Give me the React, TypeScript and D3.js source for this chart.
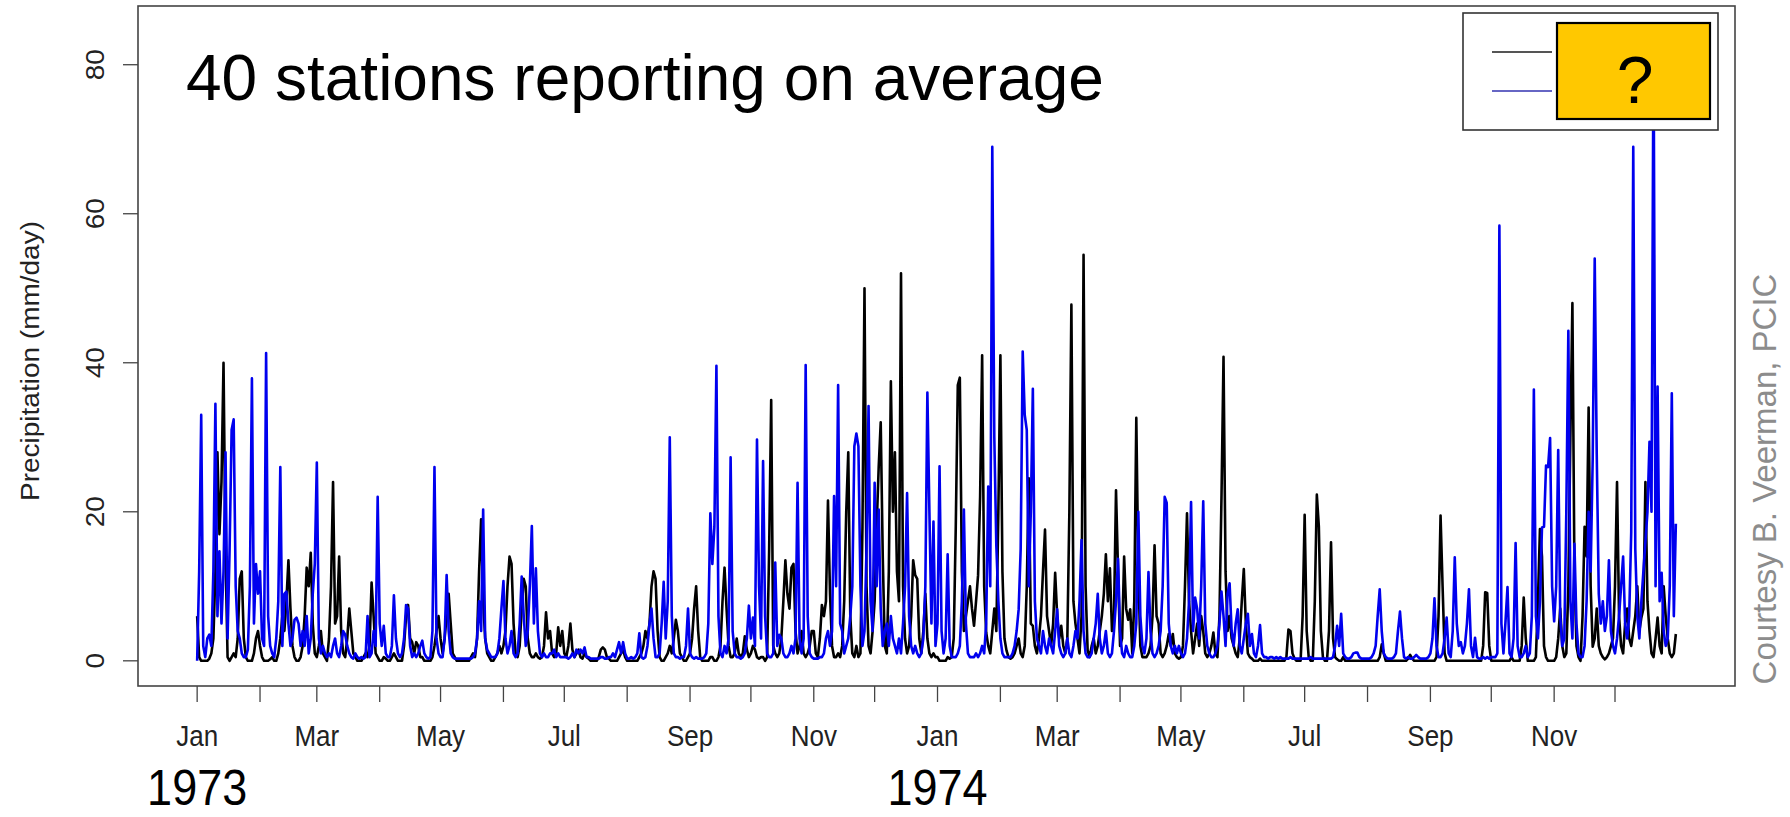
import React from "react";
import * as d3 from "d3";

// daily precipitation (mm/day), black series
const black1973 = [
  6, 0.5, 0, 0, 0, 0, 0.3, 1, 3, 12,
  28, 17, 24, 40, 14, 0.5, 0, 0.5, 1, 0.5,
  3, 11, 12, 3, 0.5, 0, 0, 0, 1, 3,
  4, 2, 0.5, 0, 0, 0, 0.2, 0.5, 0, 0,
  1, 3, 6, 4, 8, 13.5, 7, 2, 0.5, 0,
  0, 0.5, 2, 6, 12.5, 10, 14.5, 5, 1, 0.5,
  2, 4, 1, 0.5, 0, 3, 10, 24, 5, 6,
  14, 4, 1, 0.5, 3, 7, 4, 1, 0.5, 0,
  0, 0, 0.5, 1, 0.5, 2, 10.5, 6, 1, 0.5,
  0, 0, 0.5, 0.3, 0, 0, 0.5, 1, 0.5, 0,
  0, 0, 2, 6, 7.5, 3, 2.5, 1, 2.5, 2,
  0.5, 0.5, 0, 0, 0, 0, 0.5, 2, 4, 6,
  3, 1, 3, 6, 9, 5, 1, 0.5, 0, 0,
  0, 0, 0, 0, 0, 0.5, 1, 0.5, 3, 12,
  19, 8, 3, 1, 0.5, 0, 0, 0.5, 1, 2,
  1, 2, 4, 10, 14, 13, 5, 1, 0.5, 2,
  7, 11, 10, 3, 1, 0.5, 0.5, 1, 0.5, 0.3,
  0.5, 2, 6.5, 3, 4, 1, 0.5, 1, 4.5, 2,
  4, 1, 0.5, 2, 5, 1.5, 0.5, 1, 1.5, 0.5,
  0.3, 1, 0.5, 0.3, 0, 0, 0, 0, 0.5, 1.5,
  1.8, 1.5, 0.5, 0.3, 0, 0, 0, 0, 0.5, 1,
  1.5, 0.5, 0, 0, 0, 0, 0, 0, 0.5, 1,
  2, 4, 3, 5, 10, 12, 11, 4, 0.5, 0,
  0, 0.5, 1, 2, 1, 3, 5.5, 4, 1, 0.5,
  0, 0, 0.5, 1, 3, 7, 10, 4, 0.5, 0,
  0, 0, 0, 0.5, 0.5, 0, 0, 0.5, 2, 8,
  12.5, 7, 2, 0.5, 0.5, 1, 3, 1, 0.5, 1,
  3.3, 1.5, 0.5, 1, 2, 1.5, 0.5, 0.3, 0.5, 0.5,
  0, 0.5, 15, 35, 2, 1, 0.5, 1, 3, 8,
  13.5, 9, 7, 12.5, 13, 4, 1, 2, 4, 1,
  0.5, 1, 2, 4, 4, 1, 0.5, 3, 7.5, 6,
  8, 21.5, 9, 2, 0.5, 0.5, 1, 0.5, 2, 8,
  20, 28, 6, 1, 0.5, 2, 0.5, 1, 18, 50,
  10, 2, 1, 4, 8, 18, 26, 32, 14, 2,
  1, 12, 37.5, 20, 28, 12, 8, 52, 10, 3,
  1, 2, 6, 13.5, 11.5, 11, 3, 1, 4, 9,
  3, 1, 0.5, 1, 0.5,
];

const black1974 = [
  0.5, 0, 0, 0, 0, 0.5, 0.3, 0.5, 3, 18,
  37, 38, 12, 4, 6, 8, 10, 7, 4.7, 8,
  11.5, 22, 41, 10, 3.8, 2, 1, 4, 7, 4,
  20, 41, 12, 3, 1.4, 0.5, 0.3, 0.5, 1, 2,
  3, 1, 0.5, 2, 10, 24.5, 5, 4.7, 2, 1,
  3, 6, 12, 17.6, 6, 4, 2, 5, 11.8, 6,
  3, 4.7, 2, 1, 3, 20, 47.8, 8, 5, 3,
  1, 6, 54.5, 10, 1.4, 0.5, 2, 3, 1, 2,
  4, 6, 9, 14.3, 8, 12.4, 4, 6, 22.9, 12,
  2, 3, 14, 7, 5.5, 6.9, 1, 8, 32.6, 12,
  2, 0.5, 0.5, 0.5, 1, 2, 6, 15.5, 6, 5,
  1, 0.5, 1, 2, 3.6, 2, 3.6, 1, 0.5, 0.3,
  0.5, 2, 10, 19.8, 8, 4, 1, 3, 5, 2,
  6, 4, 1, 0.5, 1, 2, 3.8, 1, 0.5, 6,
  22, 40.8, 12, 4, 6, 3, 2, 1, 0.5, 3,
  8, 12.3, 5, 1, 0.5, 0.3, 0, 0, 0, 0.3,
  0, 0, 0, 0, 0, 0, 0, 0, 0, 0,
  0, 0, 0.5, 4.2, 4, 1, 0.3, 0, 0, 0,
  6, 19.6, 4, 0.5, 0, 0, 8, 22.3, 18, 4,
  0.5, 0, 0, 4, 15.9, 3, 0.5, 0.2, 0, 0,
  0.5, 0, 0, 0, 0, 0, 0, 0, 0, 0,
  0, 0, 0, 0, 0, 0, 0, 0, 0.5, 2.2,
  1, 0, 0, 0, 0, 0, 0, 0, 0, 0,
  0, 0, 0.3, 0.8, 0.3, 0, 0, 0, 0, 0,
  0, 0, 0, 0, 0, 0, 0.5, 6, 19.5, 10,
  1, 0, 0, 0, 0, 0, 0, 0, 0, 0,
  0, 0, 0, 0, 0, 0, 0, 0, 0, 2,
  9.2, 9.1, 2, 0, 0, 0, 0, 0, 0, 0,
  0, 0, 0, 0.5, 0, 0, 0, 0, 2, 8.5,
  3, 0, 0, 0, 0, 0.5, 8, 17.7, 14, 2,
  0.5, 0, 0, 0, 0, 0.5, 3, 7, 2, 0.5,
  1, 10, 30, 48, 12, 2, 0.5, 0, 6, 18,
  14, 34, 10, 1.9, 3, 7, 2, 1, 0.5, 0.2,
  0.5, 1, 2, 3, 10, 24, 6, 2, 1, 5,
  7, 3, 2, 4, 6, 10, 4, 5.8, 7, 24,
  8, 4, 1, 0.5, 3, 5.8, 2, 1, 10, 6,
  3, 1, 0.5, 1, 3.6,
];

// daily precipitation (mm/day), blue series
const blue1973 = [
  0, 12, 33, 2, 0.5, 3, 3.5, 2, 12, 34.5,
  6, 14.7, 5, 12, 28, 3, 15, 31, 32.4, 10,
  4, 3, 1, 0.5, 0.5, 1.5, 10, 37.9, 5, 13,
  9, 12, 3, 2, 41.3, 6, 2, 1, 0.5, 3,
  8, 26, 2, 9, 9.3, 5, 2, 3, 5.5, 5.8,
  5, 2, 4, 2, 6, 1, 3, 9, 13, 26.6,
  3, 1, 2, 1, 0.5, 1, 0.5, 2, 3, 1,
  0.5, 2, 4, 3.5, 2, 1, 0.5, 0.3, 1, 0.5,
  0.3, 0.5, 0.3, 0.5, 6, 0.5, 1, 4, 2, 22,
  5, 2, 4.7, 1, 0.5, 0.5, 2, 8.8, 3, 1,
  0.5, 1, 3, 7.5, 7, 2, 0.5, 1, 0.5, 1,
  2, 2.7, 1, 0.5, 0.3, 0.5, 4, 26, 3, 1,
  0.5, 0.5, 3, 11.5, 4, 1, 0.5, 0.3, 0.3, 0.3,
  0.3, 0.3, 0.3, 0.3, 0.3, 0.3, 0.5, 1, 3, 8,
  4, 20.3, 3, 1.5, 1, 0.5, 0.5, 0.5, 1, 3,
  7, 10.7, 3, 1, 2, 4, 1, 0.5, 1, 5,
  11.3, 6, 2, 4, 10, 18.1, 5, 12.4, 4, 1,
  0.5, 1, 0.5, 0.5, 1, 1, 1.5, 0.5, 1, 0.5,
  0.5, 0.5, 0.5, 0.3, 0.5, 1, 0.5, 1.5, 1, 1.5,
  1, 1.8, 0.5, 0.5, 0.3, 0.3, 0.3, 0.3, 0.3, 0.5,
  0.5, 0.3, 0.3, 0.5, 0.5, 1, 0.5, 1.5, 2.5, 1,
  2.5, 1, 0.3, 0.3, 0.5, 0.3, 0.5, 1, 3.7, 0.5,
  0.3, 0.5, 2, 5, 7, 3, 0.5, 0.5, 1, 5,
  10.6, 3, 8, 30, 6, 1, 0.5, 0.5, 0.3, 0.5,
  0.5, 2, 7, 1, 0.5, 0.3, 0.5, 0.3, 0.3, 0.3,
  0.5, 1, 5, 19.8, 13, 18, 39.6, 6, 1, 0.5,
  2, 1, 3, 27.3, 4, 1, 0.5, 0.5, 0.3, 0.5,
  1, 3, 7.4, 3, 5.8, 2, 29.7, 10, 3, 26.8,
  6, 1, 0.5, 0.5, 1, 13.2, 2, 3.5, 3, 1,
  0.5, 0.5, 1, 2, 1, 3, 23.9, 3, 1, 3,
  39.7, 6, 1, 0.5, 0.3, 0.3, 0.3, 0.5, 0.5, 1,
  3, 4, 2, 4, 22.1, 10, 37, 5, 4, 1,
  2, 3, 6, 10, 28.8, 30.5, 28.8, 10, 2, 4,
  15, 34.2, 8, 4, 23.9, 10, 20.3, 7, 2, 4,
  5, 2, 6, 3, 2, 1, 3, 1, 5, 10,
  22.5, 6, 2, 1, 2, 1, 0.5, 1, 3, 10,
  36, 20, 5, 18.7, 2,
];

const blue1974 = [
  5, 26.1, 4, 1, 3, 14.3, 2, 0.5, 0.5, 0.5,
  1, 2, 8, 20.3, 5, 1, 0.5, 0.5, 0.5, 1,
  0.5, 1, 2, 1, 5, 23.4, 10, 69, 30, 15.4,
  8, 3, 1, 0.5, 0.5, 0.5, 0.5, 1, 2, 4,
  6.9, 15, 41.5, 33, 31, 10, 20, 36.5, 8, 3,
  2, 1, 4, 2, 1, 3, 2, 1, 4, 6.9,
  2, 1, 0.5, 1, 3, 1, 0.5, 2, 4, 3,
  8, 16.2, 4, 1, 0.5, 0.5, 1, 3, 5, 9,
  3, 1, 2, 4, 1, 0.5, 1, 4, 8, 13.7,
  4, 1, 0.5, 2, 1, 0.5, 0.5, 2, 5, 20,
  6, 2, 1, 3, 11.9, 4, 1, 0.5, 1, 2,
  4, 10, 22, 21.2, 5, 2, 1, 2, 1, 2,
  1, 0.5, 1, 3, 8, 21.3, 4, 8.5, 7, 3,
  10, 21.4, 5, 2, 1, 0.5, 0.5, 1, 2, 5,
  9.3, 6, 2, 9, 10.4, 4, 2, 5, 6.9, 2,
  1, 3, 5, 6.3, 2, 3.6, 1, 0.5, 2, 4.8,
  1, 0.5, 0.5, 0.3, 0.5, 0.5, 0.3, 0.5, 0.3, 0.5,
  0.3, 0.3, 0.3, 0.3, 0.5, 0.3, 0.3, 0.3, 0.3, 0.3,
  0.3, 0.3, 0.3, 0.3, 0.5, 0.3, 0.3, 0.3, 0.3, 0.3,
  0.3, 0.3, 0.3, 0.3, 0.3, 0.5, 2, 4.7, 2, 6.3,
  1, 0.5, 0.3, 0.3, 0.5, 1, 1.1, 1.1, 0.5, 0.3,
  0.3, 0.3, 0.3, 0.3, 0.5, 1, 2, 6, 9.6, 4,
  1, 0.5, 0.3, 0.3, 0.3, 0.5, 1, 4, 6.6, 3,
  0.5, 0.3, 0.5, 0.3, 0.3, 0.5, 0.8, 0.5, 0.3, 0.3,
  0.3, 0.3, 0.5, 1, 3, 8.4, 2, 0.5, 0.5, 1,
  3, 5.8, 1, 0.5, 4, 13.9, 5, 2, 2.5, 1,
  2, 5, 9.6, 2, 0.5, 3.1, 0.5, 0.3, 0.3, 0.5,
  0.3, 0.5, 0.3, 0.5, 0.5, 0.5, 1, 58.4, 5, 1,
  5.2, 9.9, 1, 0.5, 3, 15.8, 2, 0.5, 0.5, 1,
  2, 0.5, 1, 6, 36.4, 6, 3, 8, 17.9, 18,
  26.2, 26, 29.9, 10, 5.3, 10, 28.3, 6, 2, 3,
  20, 44.3, 8, 3, 15.7, 5, 1, 0.5, 0.5, 2,
  8, 20, 12, 27, 54, 27.7, 9, 5, 8, 4,
  6, 13.5, 4, 2, 1, 3, 6, 10, 14, 5,
  3, 6, 17.3, 69, 15, 6, 3, 8, 12, 16,
  20, 29.4, 20, 84.5, 10, 36.8, 8, 11.8, 4, 2,
  3, 10, 35.9, 6, 18.4,
];

const yTicks = [0, 20, 40, 60, 80];
const years = [1973, 1974];
const title = "40 stations reporting on average";
const yLabel = "Precipitation (mm/day)";
const credit = "Courtesy B. Veerman, PCIC";

const W = 1790;
const H = 817;
const DAY = 864e5;
const FONT = "'Liberation Sans', Arial, Helvetica, sans-serif";

const App = () => {
  const blackSeries = [...black1973, ...black1974];
  const blueSeries = [...blue1973, ...blue1974];
  const start = Date.UTC(1973, 0, 1);
  const n = blackSeries.length;
  const dates = blackSeries.map((_, i) => new Date(start + i * DAY));

  // R style 4% padding on both axes
  const xPad = 0.04 * (n - 1) * DAY;
  const x = d3
    .scaleUtc()
    .domain([new Date(start - xPad), new Date(start + (n - 1) * DAY + xPad)])
    .range([138, 1735]);

  const yMax = Math.max(d3.max(blackSeries)!, d3.max(blueSeries)!);
  const yPad = 0.04 * yMax;
  const y = d3.scaleLinear().domain([-yPad, yMax + yPad]).range([686, 6]);

  const line = d3
    .line<number>()
    .x((_, i) => x(dates[i]))
    .y((v) => y(v));

  const months = d3.utcMonth.range(new Date(start), new Date(Date.UTC(1975, 0, 1)));
  const fmt = d3.utcFormat("%b");

  const [x0, x1] = x.range();
  const [yb, yt] = y.range();

  return (
    <svg
      width={W}
      height={H}
      style={{ position: "absolute", left: 0, top: 0, background: "#fff" }}
      fontFamily={FONT}
    >
      <rect x={0} y={0} width={W} height={H} fill="#fff" />

      {/* series */}
      <path d={line(blackSeries)!} fill="none" stroke="#000" strokeWidth={2.6} strokeLinejoin="round" />
      <path d={line(blueSeries)!} fill="none" stroke="#0000ee" strokeWidth={2.6} strokeLinejoin="round" />

      {/* frame */}
      <rect x={x0} y={yt} width={x1 - x0} height={yb - yt} fill="none" stroke="#444" strokeWidth={1.6} />

      {/* y axis */}
      {yTicks.map((t) => (
        <g key={t}>
          <line x1={x0} x2={x0 - 15} y1={y(t)} y2={y(t)} stroke="#444" strokeWidth={1.3} />
          <g transform={`translate(104,${y(t)}) rotate(-90) scale(1.12,1)`}>
            <text textAnchor="middle" fontSize={25} fill="#222">
              {t}
            </text>
          </g>
        </g>
      ))}
      <g transform={`translate(39,361) rotate(-90) scale(1.12,1)`}>
        <text textAnchor="middle" fontSize={25} fill="#222">
          {yLabel}
        </text>
      </g>

      {/* x axis */}
      {months.map((m, i) => (
        <g key={m.getTime()}>
          <line x1={x(m)} x2={x(m)} y1={yb} y2={yb + 16} stroke="#444" strokeWidth={1.3} />
          {i % 2 === 0 && (
            <g transform={`translate(${x(m)},746) scale(1,1.12)`}>
              <text textAnchor="middle" fontSize={26} fill="#222">
                {fmt(m)}
              </text>
            </g>
          )}
        </g>
      ))}
      {years.map((yr) => (
        <g key={yr} transform={`translate(${x(new Date(Date.UTC(yr, 0, 1)))},805) scale(1,1.12)`}>
          <text textAnchor="middle" fontSize={45} fill="#000">
            {yr}
          </text>
        </g>
      ))}

      {/* title */}
      <text x={186} y={100} fontSize={64} fill="#000">
        {title}
      </text>

      {/* legend */}
      <rect x={1463} y={13} width={255} height={117} fill="#fff" stroke="#333" strokeWidth={1.6} />
      <line x1={1492} x2={1552} y1={52} y2={52} stroke="#555" strokeWidth={2} />
      <line x1={1492} x2={1552} y1={91} y2={91} stroke="#3333b0" strokeWidth={1.6} />
      <rect x={1557} y={23} width={153} height={96} fill="#ffc800" stroke="#000" strokeWidth={2.2} />
      <text x={1635} y={103} textAnchor="middle" fontSize={66} fill="#000">
        ?
      </text>

      {/* credit */}
      <g transform="translate(1776,479) rotate(-90)">
        <text textAnchor="middle" fontSize={33} fill="#8c8c8c">
          {credit}
        </text>
      </g>
    </svg>
  );
};

export default App;
